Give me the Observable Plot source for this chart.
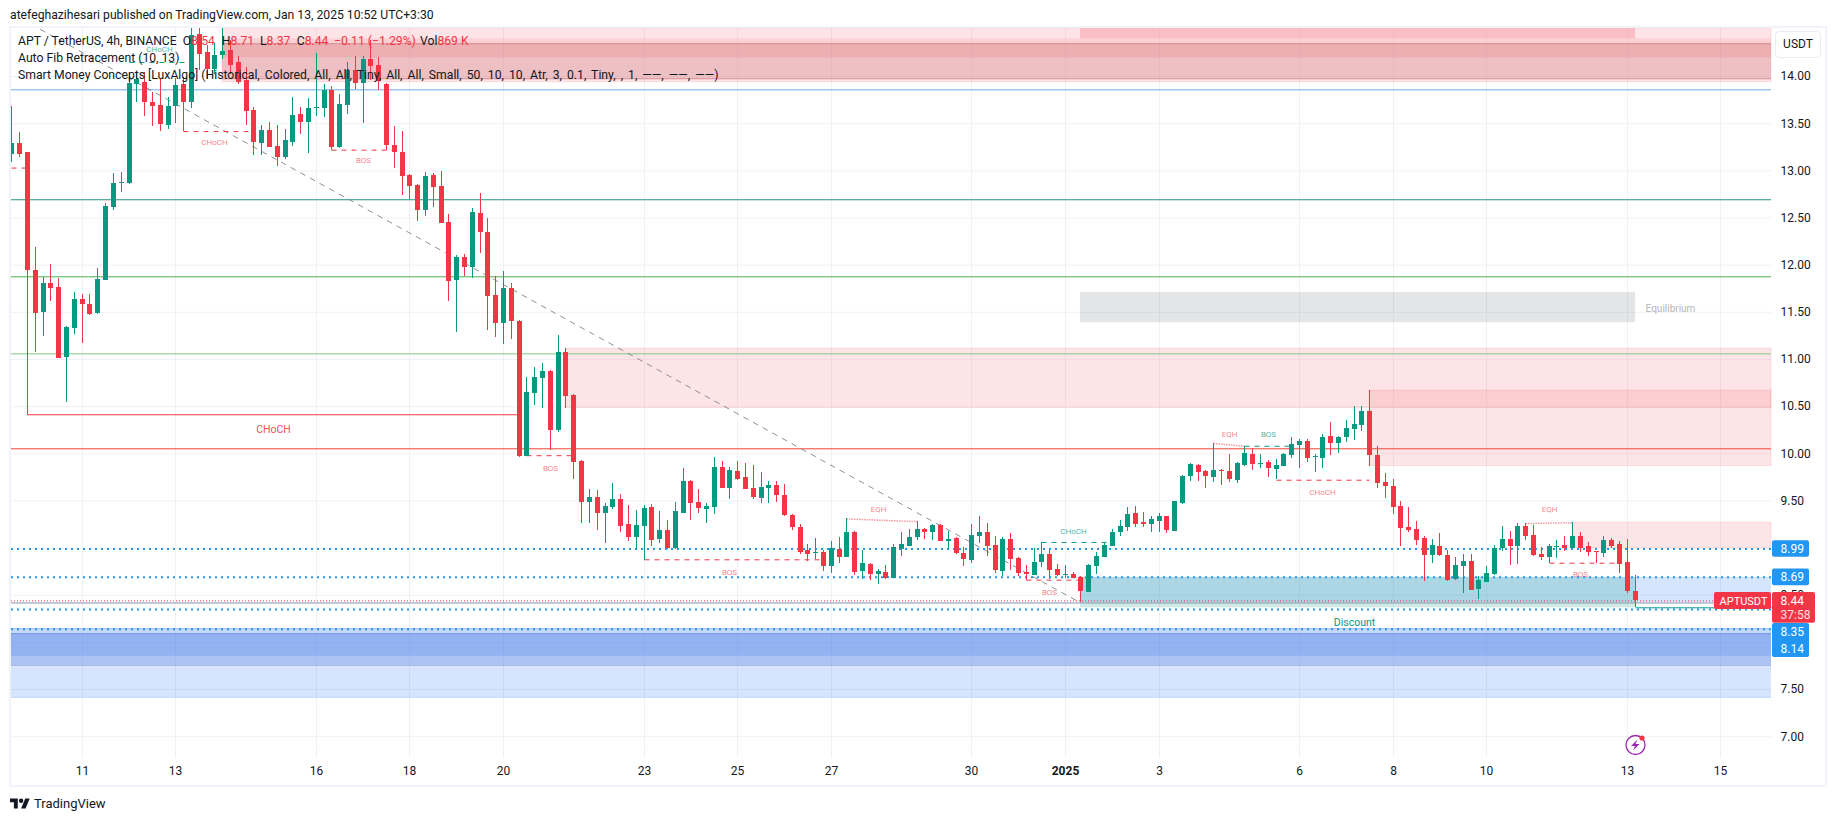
<!DOCTYPE html>
<html><head><meta charset="utf-8">
<script src="https://cdn.jsdelivr.net/npm/d3@7"></script>
<script src="https://cdn.jsdelivr.net/npm/@observablehq/plot@0.6"></script>
<style>
html,body{margin:0;padding:0;background:#fff;width:1835px;height:821px;overflow:hidden;font-family:Roboto,sans-serif;color:#131722}
#hdr{position:absolute;left:10px;top:6px;font-size:12.2px;line-height:18px;white-space:nowrap}
#box{position:absolute;left:9px;top:26px;width:1814px;height:757px;border:2px solid #f0f3fa}
#box svg{display:block}
#legend{position:absolute;left:18px;top:33px;font-size:12.2px;line-height:17px;white-space:nowrap}
#legend .r{color:#f23645}
#legend .row{position:relative;height:17px}
#legend .row span.p{position:absolute;top:0}
#legend .w{word-spacing:2px}
#usdt{position:absolute;left:1775px;top:31px;width:44px;height:25px;border:1px solid #e9ecf3;border-radius:4px;font-size:12px;line-height:25px;text-align:center;background:#fff}
#foot{position:absolute;left:10px;top:795px;font-size:13px;line-height:17px;display:flex;align-items:center;gap:4px}
</style></head><body>
<div id="hdr">atefeghazihesari published on TradingView.com, Jan 13, 2025 10:52 UTC+3:30</div>
<div id="box"></div>
<div id="legend">
<div class="row">APT / TetherUS, 4h, BINANCE<span class="p" style="left:164.7px">O<span class="r">8.54</span></span><span class="p" style="left:203.7px">H<span class="r">8.71</span></span><span class="p" style="left:242px">L<span class="r">8.37</span></span><span class="p" style="left:278.7px">C<span class="r">8.44</span></span><span class="p r" style="left:316px">−0.11 (−1.29%)</span><span class="p" style="left:402px">Vol<span class="r">869 K</span></span></div>
<div class="row">Auto Fib Retracement (10, 13)</div>
<div class="row">Smart Money Concepts [LuxAlgo] <span class="w">(Historical, Colored, All, All, Tiny, All, All, Small, 50, 10, 10, Atr, 3, 0.1, Tiny, , 1, ——, ——, ——)</span></div>
</div>
<div id="usdt">USDT</div>
<div id="foot"><svg width="20" height="16" viewBox="0 0 36 28" fill="#131722"><path d="M14 22H7V11H0V4h14v18zM28 22h-8l7.5-18h8L28 22z"/><circle cx="20" cy="8" r="4"/></svg><span>TradingView</span></div>
<script>
// candle index 0 = 00:00 on Dec 11; one candle = 4h
const firstIndex = -9;
const open = [13.17,13.29,13.19,11.94,11.50,11.81,11.76,11.02,11.33,
11.64,11.58,11.49,11.84,12.61,12.87,12.87,13.92,13.94,13.73,
13.69,13.48,13.68,13.92,13.73,14.45,14.26,14.07,14.22,14.28,
14.15,13.96,13.64,13.29,13.43,13.26,13.14,13.30,13.60,13.51,
13.66,13.66,13.85,13.25,13.69,14.06,13.93,14.18,14.12,13.92,
13.27,13.19,12.95,12.85,12.58,12.95,12.83,12.45,11.84,12.08,
11.98,12.55,12.35,11.68,11.38,11.75,11.40,9.97,10.64,10.80,
10.87,10.25,11.07,10.62,9.92,9.48,9.54,9.37,9.43,9.52,
9.25,9.11,9.23,9.43,9.09,9.19,9.00,9.37,9.71,9.48,
9.41,9.43,9.86,9.63,9.81,9.75,9.63,9.53,9.63,9.66,
9.56,9.35,9.22,8.97,8.94,8.95,8.80,8.99,8.90,9.17,
8.75,8.83,8.72,8.74,8.68,8.99,9.02,9.11,9.20,9.17,
9.24,9.07,9.10,8.94,8.87,9.12,9.17,9.03,8.75,9.09,
8.89,8.74,8.71,8.85,8.93,8.77,8.71,8.72,8.69,8.53,
8.81,8.90,9.02,9.17,9.22,9.37,9.27,9.25,9.28,9.33,
9.18,9.47,9.76,9.88,9.81,9.75,9.82,9.81,9.72,9.88,
9.99,9.89,9.91,9.83,9.87,9.98,10.09,10.13,9.96,9.95,
10.18,10.11,10.17,10.26,10.30,10.45,9.98,9.70,9.65,9.44,
9.22,9.20,9.10,8.92,9.02,8.92,8.67,8.81,8.86,8.56,
8.64,8.72,9.00,9.09,9.02,9.23,9.13,8.93,8.90,9.01,
9.03,9.00,9.12,9.02,8.96,8.94,9.08,9.04,8.85,8.54];
const high = [13.68,13.41,13.20,12.19,11.87,12.01,11.86,11.35,11.71,
11.69,11.69,11.97,12.65,12.97,12.98,14.03,14.04,14.04,13.83,
13.98,13.78,13.98,13.99,14.52,14.52,14.33,14.35,14.52,14.38,
14.21,14.10,13.67,13.48,13.51,13.48,13.44,13.78,13.67,13.77,
14.25,13.92,13.90,13.81,14.15,14.21,14.21,14.38,14.20,13.93,
13.47,13.42,12.96,12.86,12.98,12.97,12.99,12.54,12.10,12.11,
12.60,12.76,12.50,11.88,11.93,11.81,11.41,10.81,10.92,10.96,
10.88,11.25,11.12,10.63,9.93,9.62,9.61,9.47,9.69,9.57,
9.45,9.40,9.45,9.46,9.39,9.29,9.48,9.84,9.72,9.62,
9.47,9.96,9.92,9.86,9.92,9.90,9.88,9.80,9.71,9.71,
9.67,9.36,9.25,9.04,9.10,8.97,9.07,9.11,9.31,9.18,
8.97,8.84,8.77,8.82,9.04,9.17,9.20,9.28,9.21,9.25,
9.25,9.18,9.11,9.01,9.25,9.34,9.26,9.12,9.11,9.16,
8.90,8.82,9.00,9.06,8.97,8.83,8.82,8.74,8.70,8.83,
8.95,9.05,9.20,9.29,9.43,9.44,9.38,9.34,9.37,9.34,
9.49,9.77,9.90,9.89,9.82,10.11,9.83,9.99,9.91,10.08,
10.06,9.99,9.93,9.94,10.00,10.17,10.15,10.15,9.99,10.20,
10.33,10.18,10.35,10.50,10.50,10.67,10.08,9.79,9.73,9.49,
9.43,9.28,9.12,9.09,9.15,8.97,8.90,8.93,8.93,8.70,
8.81,9.03,9.23,9.18,9.26,9.26,9.24,9.01,9.04,9.08,
9.12,9.27,9.17,9.06,8.96,9.12,9.10,9.07,9.09,8.71];
const low = [13.09,13.14,11.93,11.07,11.24,11.62,11.01,10.54,11.27,
11.17,11.47,11.48,11.84,12.58,12.77,12.86,13.73,13.58,13.47,
13.42,13.44,13.50,13.42,13.66,14.06,13.97,14.02,14.18,14.02,
13.92,13.48,13.16,13.16,13.25,13.05,13.12,13.26,13.39,13.18,
13.58,13.57,13.22,13.24,13.60,13.86,13.50,13.96,13.85,13.22,
13.03,12.74,12.70,12.46,12.52,12.61,12.44,11.62,11.29,11.88,
11.86,12.12,11.31,11.23,11.16,11.21,9.96,9.97,10.51,10.48,
10.03,10.23,10.48,9.73,9.26,9.26,9.19,9.05,9.41,9.17,
9.07,8.97,8.87,9.02,9.05,8.99,8.99,9.37,9.29,9.37,
9.26,9.36,9.63,9.52,9.72,9.62,9.52,9.47,9.47,9.48,
9.33,9.19,8.93,8.86,8.88,8.75,8.73,8.84,8.90,8.71,
8.67,8.66,8.61,8.67,8.68,8.91,9.02,9.08,9.09,9.08,
9.07,8.99,8.93,8.80,8.84,9.05,8.91,8.73,8.70,8.76,
8.70,8.66,8.71,8.79,8.67,8.70,8.68,8.68,8.42,8.53,
8.72,8.90,9.02,9.12,9.18,9.22,9.22,9.17,9.17,9.16,
9.18,9.46,9.71,9.71,9.63,9.70,9.66,9.70,9.69,9.87,
9.82,9.84,9.75,9.73,9.87,9.95,9.84,9.91,9.80,9.84,
9.98,10.00,10.12,10.14,10.24,9.87,9.63,9.53,9.36,9.02,
9.17,9.03,8.65,8.84,8.91,8.65,8.66,8.52,8.55,8.46,
8.64,8.71,8.96,8.82,8.83,9.08,8.91,8.87,8.84,8.89,
8.96,9.00,8.95,8.91,8.84,8.90,9.00,8.73,8.52,8.37];
const close = [13.29,13.17,11.94,11.49,11.81,11.75,11.01,11.34,11.64,
11.58,11.48,11.85,12.62,12.87,12.88,13.93,13.97,13.72,13.68,
13.49,13.68,13.91,13.73,14.44,14.23,14.07,14.22,14.27,14.12,
13.94,13.63,13.30,13.43,13.25,13.14,13.32,13.59,13.51,13.66,
13.67,13.85,13.25,13.70,14.06,13.93,14.18,14.11,13.95,13.27,
13.19,12.94,12.83,12.58,12.94,12.82,12.44,11.83,12.08,11.98,
12.56,12.35,11.67,11.38,11.75,11.40,9.97,10.65,10.81,10.87,
10.25,11.07,10.61,9.91,9.48,9.54,9.37,9.44,9.52,9.23,
9.11,9.24,9.42,9.08,9.19,9.00,9.39,9.71,9.47,9.42,
9.44,9.85,9.63,9.82,9.73,9.62,9.54,9.64,9.66,9.56,
9.35,9.22,8.95,8.93,8.95,8.80,9.00,8.90,9.17,8.74,
8.84,8.72,8.75,8.68,9.01,9.04,9.11,9.20,9.17,9.24,
9.07,9.09,8.94,8.88,9.13,9.17,9.02,8.76,9.09,8.88,
8.73,8.72,8.85,8.93,8.76,8.71,8.72,8.68,8.54,8.82,
8.91,9.03,9.17,9.23,9.36,9.25,9.25,9.30,9.33,9.19,
9.49,9.76,9.89,9.80,9.76,9.82,9.81,9.73,9.90,10.00,
9.89,9.90,9.84,9.88,9.99,10.10,10.13,9.95,9.97,10.17,
10.11,10.17,10.27,10.31,10.45,9.98,9.69,9.65,9.43,9.21,
9.19,9.08,8.92,9.03,8.92,8.66,8.82,8.86,8.55,8.66,
8.73,9.00,9.09,9.02,9.23,9.12,8.92,8.90,9.02,9.02,
9.00,9.12,9.00,8.95,8.95,9.08,9.02,8.83,8.54,8.44];

const xTickIndex = [0,12,30,42,54,72,84,96,114,126,138,156,168,180,198,210];
const xTickLabel = ["11","13","16","18","20","23","25","27","30","2025","3","6","8","10","13","15"];
const gridPrices = [7,7.5,8,8.5,9,9.5,10,10.5,11,11.5,12,12.5,13,13.5,14];
const axisPrices = [7,7.5,8.5,9.5,10,10.5,11,11.5,12,12.5,13,13.5,14];
const xMin = -9.06, xMax = 216.49, yMin = 6.769, yMax = 14.51;

// horizontal levels
const fibPrices = [13.86,12.694,11.877,11.06,10.053,8.418];
const fibTones  = ["#6badea","#1f9482","#4caf50","#81c784","#f44336","#8d93ad"];
const dottedLevels = [8.99,8.69,8.35,8.14];
const lastPrice = 8.44;

// zones: start, end, top price, bottom price, tone
const zoneStart  = [18,   128,   18,    18,    18,    62,    165,  191,  128,  128,  128,  199,  xMin, xMin, xMin, xMin, xMin];
const zoneEnd    = [xMax, 199,   xMax,  xMax,  xMax,  xMax,  xMax, xMax, 199,  199,  199,  xMax, xMax, xMax, xMax, xMax, xMax];
const zoneTop    = [14.51,14.51, 14.40, 14.348,14.195,11.115,10.67,9.27, 11.71,8.69, 8.69, 8.69, 8.147,8.094,7.865,8.147,7.734];
const zoneBottom = [13.94,14.40, 14.348,14.195,13.977,10.485,9.87, 9.0,  11.39,8.367,8.42, 8.42, 7.752,7.865,7.752,8.094,7.419];
const zoneTone   = ["sup","premium","band0","band1","band2","sup","sup","sup","eq","disc","dem","dem","base","deep","mid","top","base"];

// structure segments: start, end, from price, to price, style, tone
const segStart = [-7,-7,xMin,13,32,6,57,72,98,145,149,123,121,153,185,188,199];
const segEnd   = [56,-7,-7,22,40,14,63,95,107,149,155,132,128,165,191,197,xMax];
const segFrom  = [10.414,11.94,13.03,13.417,13.22,14.15,9.98,8.876,9.31,10.11,10.08,9.06,8.66,9.72,9.26,8.84,8.367];
const segTo    = [10.414,10.414,13.03,13.417,13.22,14.15,9.98,8.876,9.28,10.08,10.08,9.06,8.66,9.72,9.27,8.84,8.367];
const segStyle = ["solid","solid","dash","dash","dash","dash","dash","dash","dot","dot","dash","dash","dash","dash","dot","dash","solid"];
const segTone  = ["down","down","down","down","down","up","down","down","down","down","up","up","down","down","down","down","up"];

// structure labels
const labelText  = ["CHoCH","CHoCH","BOS","CHoCH","BOS","BOS","EQH","EQH","BOS","CHoCH","BOS","CHoCH","EQH","BOS"];
const labelIndex = [24.5,17,36,9.9,60,83,102,147,152,127,124,159,188,192];
const labelPrice = [10.258,13.30,13.11,14.29,9.85,8.745,9.41,10.21,10.21,9.18,8.525,9.59,9.41,8.72];
const labelTone  = ["down","down","down","up","down","down","down","down","up","up","down","down","down","down"];
const labelBig   = [true,false,false,false,false,false,false,false,false,false,false,false,false,false];

// fib trend line
const trendIndex = [-5.3,128], trendPrice = [14.5,8.42];

// price-axis tags
const tagText  = ["8.99","8.69","8.35","8.14"];
const tagAt    = [8.99,8.69,8.108,7.928];

const UP="#089981", DOWN="#f23645", BLUE="#2196f3";
const font="Roboto,sans-serif";
const tones={sup:["#f23645",.13],premium:["#f998a3",.5],band0:["#fbbec3",.5],band1:["#df7a7f",.5],band2:["#dd9ca1",.5],
  eq:["#787b86",.2],disc:["#089981",.2],dem:["#2f7bf6",.2],base:["#2f7bf6",.2],deep:["#5280e5",.5],mid:["#86a2e7",.5],top:["#b4ccf7",.5]};

const candles=open.map((o,k)=>({i:firstIndex+k,o,h:high[k],l:low[k],c:close[k]}));
const ups=candles.filter(d=>d.c>=d.o), downs=candles.filter(d=>d.c<d.o);
const zones=zoneStart.map((s,k)=>({s,e:zoneEnd[k],t:zoneTop[k],b:zoneBottom[k],tone:zoneTone[k]}));
const segs=segStart.map((s,k)=>({s,e:segEnd[k],a:segFrom[k],b:segTo[k],style:segStyle[k],tone:segTone[k]}));
const labels=labelText.map((t,k)=>({t,i:labelIndex[k],p:labelPrice[k],tone:labelTone[k],big:labelBig[k]}));
const tagRows=tagText.map((t,k)=>({t,p:tagAt[k]}));
const trend=trendIndex.map((i,k)=>({i,p:trendPrice[k]}));

const zoneMark=t=>Plot.rect(zones.filter(z=>z.tone===t),{x1:"s",x2:"e",y1:"t",y2:"b",fill:tones[t][0],fillOpacity:tones[t][1],
  stroke:t==="sup"?DOWN:"none",strokeOpacity:.12});
const segMark=(style,tone,dash,op,w=1)=>Plot.link(segs.filter(s=>s.style===style&&s.tone===tone),
  {x1:"s",x2:"e",y1:"a",y2:"b",stroke:tone==="up"?UP:DOWN,strokeWidth:w,strokeDasharray:dash,strokeOpacity:op});
const wick=(d,c)=>Plot.ruleX(d,{x:"i",y1:"l",y2:"h",stroke:c,strokeWidth:1,shapeRendering:"crispEdges"});
const body=(d,c)=>Plot.ruleX(d,{x:"i",y1:"o",y2:"c",stroke:c,strokeWidth:5,shapeRendering:"crispEdges"});
const labelMark=(f,c,size,op)=>Plot.text(labels.filter(f),{x:"i",y:"p",text:"t",fill:c,fontSize:size,fillOpacity:op});

function boltMark(index,{x,y}){
  const g=d3.create("svg:g");
  const cx=x(199)+.5, cy=y(6.907);
  g.append("circle").attr("cx",cx).attr("cy",cy).attr("r",9.5).attr("fill","#fff").attr("stroke","#9c27b0").attr("stroke-width",1.3);
  g.append("path").attr("transform",`translate(${cx},${cy})`).attr("d","M2-5.5L-4.5 1H-.5L-2.5 5.5L4-1H0Z").attr("fill","#9c27b0");
  g.append("circle").attr("cx",cx+6.5).attr("cy",cy-7).attr("r",2.6).attr("fill",DOWN);
  return g.node();
}

const chart=Plot.plot({
  width:1814,height:757,marginLeft:0,marginRight:54,marginTop:0,marginBottom:27,
  style:{fontFamily:font,fontSize:"12px",color:"#131722",background:"#fff",overflow:"hidden"},
  x:{domain:[xMin,xMax],round:true},
  y:{domain:[yMin,yMax]},
  marks:[
    Plot.ruleY(gridPrices,{stroke:"#f0f1f4",strokeWidth:1}),
    Plot.ruleX(xTickIndex,{stroke:"#f0f1f4",strokeWidth:1}),
    ...["base","deep","mid","top","sup","premium","band0","band1","band2","eq","dem","disc"].map(zoneMark),
    Plot.ruleY([14.348,13.977],{stroke:"#d68a8f",strokeWidth:1,x1:18,x2:xMax}),
    Plot.ruleY([8.147],{stroke:"#a9c4f8",strokeWidth:1}),
    Plot.ruleY([8.094],{stroke:"#7a9be8",strokeWidth:1}),
    Plot.ruleY([7.865],{stroke:"#86a8ef",strokeWidth:1}),
    Plot.ruleY([7.752],{stroke:"#8ea6e0",strokeWidth:1}),
    Plot.ruleY([7.419],{stroke:"#b3ccfb",strokeWidth:1}),
    Plot.ruleY(fibPrices.map((p,k)=>({p,c:fibTones[k]})),{y:"p",stroke:"c",strokeWidth:1}),
    Plot.line(trend,{x:"i",y:"p",stroke:"#787b86",strokeWidth:1,strokeDasharray:"5,6",strokeOpacity:.85}),
    Plot.ruleY(dottedLevels,{stroke:BLUE,strokeWidth:2,strokeDasharray:"2,4"}),
    Plot.ruleY([lastPrice],{stroke:DOWN,strokeWidth:1,strokeDasharray:"1,2"}),
    segMark("solid","down",null,1),
    segMark("solid","up",null,1),
    segMark("dash","down","5,5",1),
    segMark("dash","up","5,5",1),
    segMark("dot","down","1.5,1",.5,1.5),
    wick(ups,UP),wick(downs,DOWN),body(ups,UP),body(downs,DOWN),
    labelMark(d=>d.big,DOWN,10.5,.9),
    labelMark(d=>!d.big&&d.tone==="down",DOWN,8,.65),
    labelMark(d=>!d.big&&d.tone==="up",UP,8,.75),
    Plot.text(["Equilibrium"],{x:203.6,y:11.54,text:d=>d,fill:"#b2b5be",fontSize:10}),
    Plot.text(["Discount"],{x:163,y:8.21,text:d=>d,fill:UP,fontSize:10.5}),
    boltMark,
    Plot.axisY(axisPrices,{anchor:"right",tickSize:0,tickPadding:9,tickFormat:d3.format(".2f"),fontSize:12,fill:"#131722",label:null}),
    Plot.axisX(xTickIndex.filter(i=>i!==126),{tickSize:0,tickPadding:8,tickFormat:i=>xTickLabel[xTickIndex.indexOf(i)],fontSize:12,fill:"#131722",label:null}),
    Plot.axisX([126],{tickSize:0,tickPadding:8,tickFormat:()=>"2025",fontSize:12,fontWeight:"bold",fill:"#131722",label:null}),
    Plot.rect(tagRows.slice(0,2),{x1:216.63,x2:221.37,y1:d=>d.p+.088,y2:d=>d.p-.088,fill:BLUE,rx:2}),
    Plot.rect([0],{x1:216.63,x2:221.37,y1:8.2,y2:7.84,fill:BLUE,rx:2}),
    Plot.text(tagRows,{x:216.63,y:"p",dx:8,text:"t",fill:"#fff",textAnchor:"start",fontSize:12}),
    Plot.rect([0],{x1:216.63,x2:222.14,y1:8.53,y2:8.204,fill:DOWN,rx:2}),
    Plot.rect([0],{x1:209.2,x2:216.49,y1:8.53,y2:8.349,fill:DOWN,rx:2}),
    Plot.text(["8.44"],{x:216.63,y:8.437,dx:8,text:d=>d,fill:"#fff",textAnchor:"start",fontSize:12}),
    Plot.text(["37:58"],{x:216.63,y:8.293,dx:8,text:d=>d,fill:"#fff",fillOpacity:.85,textAnchor:"start",fontSize:12}),
    Plot.text(["APTUSDT"],{x:212.85,y:8.437,text:d=>d,fill:"#fff",fontSize:11})
  ]
});
document.getElementById("box").append(chart);
</script>
</body></html>
